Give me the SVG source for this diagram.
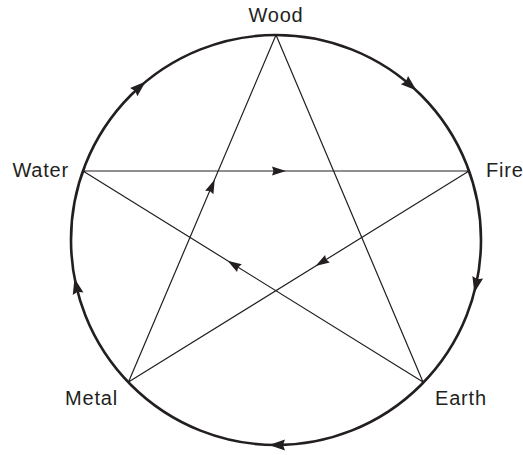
<svg xmlns="http://www.w3.org/2000/svg" xmlns:xlink="http://www.w3.org/1999/xlink" width="523" height="455" viewBox="0 0 523 455">
<style>
.lbl{font-family:"Liberation Sans",Arial,sans-serif;font-size:20px;fill:#231f20;letter-spacing:0.8px}
.ring{fill:none;stroke:#231f20;stroke-width:2.6}
.star{fill:none;stroke:#231f20;stroke-width:1.2}
.ah{fill:#231f20}
</style>
<defs>
<path id="ahBig" d="M8,0 L-8,-5.5 L-6,0 L-8,5.5 Z"/>
<path id="ahSm" d="M7,0 L-7,-4.5 L-5.5,0 L-7,4.5 Z"/>
</defs>
<rect width="523" height="455" fill="#fff"/>
<g id="connectors">
<circle class="ring" cx="276" cy="240" r="205"/>
<g class="ah">
<use xlink:href="#ahBig" transform="translate(139.7,86.9) rotate(-41.7)"/>
<use xlink:href="#ahBig" transform="translate(410.5,85.3) rotate(41)"/>
<use xlink:href="#ahBig" transform="translate(476,285) rotate(102.7)"/>
<use xlink:href="#ahBig" transform="translate(277,445) rotate(180)"/>
<use xlink:href="#ahBig" transform="translate(76.3,286) rotate(-103)"/>
</g>
<path class="star" d="M83,171 L469,171 M469,171 L128.5,382 M128.5,382 L276,35 M276,35 L423,382 M423,382 L83,171"/>
<g class="ah">
<use xlink:href="#ahSm" transform="translate(279,171)"/>
<use xlink:href="#ahSm" transform="translate(321.5,262.4) rotate(148.2)"/>
<use xlink:href="#ahSm" transform="translate(212,186) rotate(-67)"/>
<use xlink:href="#ahSm" transform="translate(233.5,264.4) rotate(-148.2)"/>
</g>
</g>
<g id="wood"><text class="lbl" x="276" y="22" text-anchor="middle">Wood</text></g>
<g id="fire"><text class="lbl" x="486" y="177">Fire</text></g>
<g id="earth"><text class="lbl" x="435" y="405">Earth</text></g>
<g id="metal"><text class="lbl" x="118" y="405" text-anchor="end">Metal</text></g>
<g id="water"><text class="lbl" x="69" y="177" text-anchor="end">Water</text></g>
</svg>
